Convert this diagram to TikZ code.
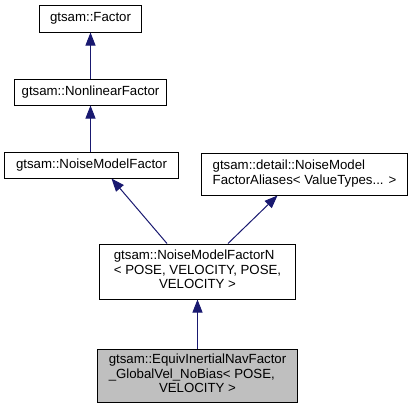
\documentclass[tikz,border=0pt]{standalone}
\usepackage{fontspec}
\setmainfont{Liberation Sans}
\usetikzlibrary{arrows.meta,calc}
\definecolor{navy}{HTML}{191970}
\definecolor{boxgray}{HTML}{BFBFBF}
\begin{document}
\begin{tikzpicture}[x=1bp,y=-1bp,
  cls/.style={draw=black,line width=1bp,fill=white,inner sep=0pt,font=\fontsize{13.3}{14.5}\selectfont},
  inh/.style={draw=navy,line width=1bp,-{Triangle[length=13bp,width=10bp,fill=navy]}}]
\useasboundingbox (0,0) rectangle (413,409);
\node[cls,minimum width=101bp,minimum height=27bp] (f) at (90.5,18.5) {gtsam::Factor};
\node[cls,minimum width=151bp,minimum height=26bp] (nl) at (90.5,92) {gtsam::NonlinearFactor};
\node[cls,minimum width=173bp,minimum height=26bp] (nm) at (91.5,165) {gtsam::NoiseModelFactor};
\node[cls,minimum width=205bp,minimum height=42bp] (al) at (304.5,174) {\begin{tabular}{@{}l@{}}gtsam::detail::NoiseModel\\FactorAliases\textless{} ValueTypes... \textgreater{}\end{tabular}};
\node[cls,minimum width=195bp,minimum height=55bp] (n) at (197.5,271.5) {\begin{tabular}{@{}l@{}}gtsam::NoiseModelFactorN\\\textless{} POSE, VELOCITY, POSE,\\\multicolumn{1}{@{}c@{}}{VELOCITY \textgreater{}}\end{tabular}};
\node[cls,fill=boxgray,minimum width=199bp,minimum height=53bp] (b) at (197.5,375.5) {\begin{tabular}{@{}l@{}}gtsam::EquivInertialNavFactor\\\_GlobalVel\_NoBias\textless{} POSE,\\\multicolumn{1}{@{}c@{}}{VELOCITY \textgreater{}}\end{tabular}};
\draw[inh] (nl.north) -- (f.south);
\draw[inh] (nm.north -| nl.north) -- (nl.south);
\draw[inh] ($(n.north)+(-30.5,0)$) -- ($(nm.south)+(20,0)$);
\draw[inh] ($(n.north)+(30.5,0)$) -- ($(al.south)+(-27,0)$);
\draw[inh] (b.north) -- (n.south);
\end{tikzpicture}
\end{document}
